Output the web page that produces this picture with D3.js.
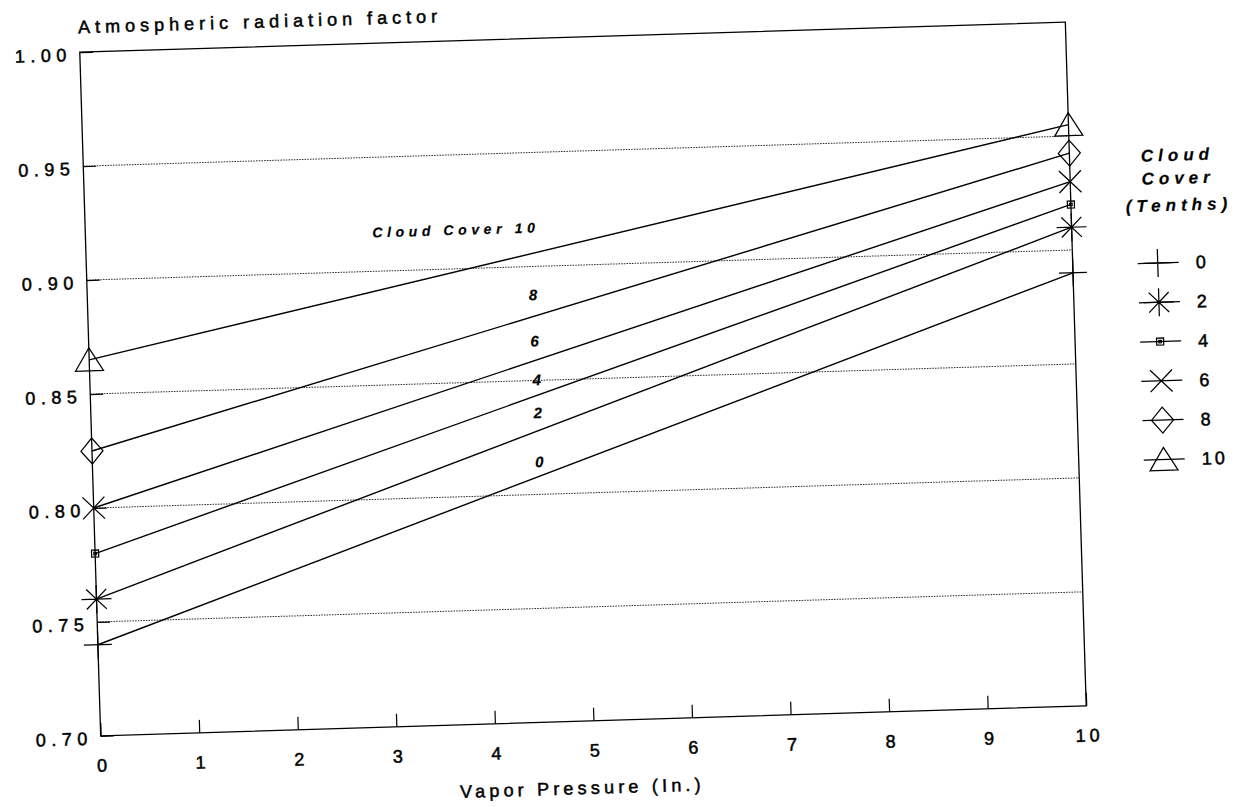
<!DOCTYPE html>
<html><head><meta charset="utf-8">
<script src="https://cdn.jsdelivr.net/npm/d3@7"></script>
<style>body{margin:0;background:#fff}svg{display:block}</style>
</head><body>
<svg id="chart" width="1235" height="807"></svg>
<script>
// ---- data ----
const vaporPressure = [0, 10];
const cloudCover = [0, 2, 4, 6, 8, 10];
const valuesAt0 = [0.74, 0.76, 0.78, 0.80, 0.825, 0.865];
const valuesAt10 = [0.89, 0.91, 0.92, 0.93, 0.9425, 0.955];
const markerTypes = ["plus", "asterisk", "square", "cross", "diamond", "triangle"];
const xTicks = [0, 1, 2, 3, 4, 5, 6, 7, 8, 9, 10];
const yTicks = [0.70, 0.75, 0.80, 0.85, 0.90, 0.95, 1.00];
const gridValues = [0.75, 0.80, 0.85, 0.90, 0.95];
const curveLabels = ["0", "2", "4", "6", "8", "Cloud Cover  10"];
const curveLabelX = [4.53, 4.53, 4.53, 4.52, 4.52, 2.91];
const curveLabelY = [0.8142, 0.8357, 0.8502, 0.8673, 0.8875, 0.917];
const yTitle = "Atmospheric radiation factor";
const xTitle = "Vapor Pressure (In.)";
const legendTitle = ["Cloud", "Cover", "(Tenths)"];

// ---- layout ----
const svg = d3.select("#chart");
const L = 90, R = 1076, T = 37, B = 721;
const FONT = "'Liberation Sans', Arial, Helvetica, sans-serif";
const x = d3.scaleLinear().domain([0, 10]).range([L, R]);
const y = d3.scaleLinear().domain([0.70, 1.00]).range([B, T]);

const root = svg.append("g").attr("transform", "rotate(-1.75, 583, 379)");

function heavy(sel, w) {
  return sel.attr("fill", "#000").attr("stroke", "#000").attr("stroke-width", w)
    .attr("paint-order", "stroke");
}

// gridlines (dotted)
root.append("g").selectAll("line").data(gridValues).join("line")
  .attr("x1", x(0)).attr("x2", x(10))
  .attr("y1", d => y(d)).attr("y2", d => y(d))
  .attr("stroke", "#333").attr("stroke-width", 1)
  .attr("stroke-dasharray", "1.6,1.1");

// axes
const xAxis = root.append("g").attr("transform", `translate(0,${B})`)
  .call(d3.axisBottom(x).tickValues(xTicks).tickSize(-13).tickPadding(23).tickFormat(d3.format("d")));
const yAxis = root.append("g").attr("transform", `translate(${L},0)`)
  .call(d3.axisLeft(y).tickValues(yTicks).tickSize(-13).tickPadding(8).tickFormat(d3.format(".2f")));
[xAxis, yAxis].forEach(a => {
  a.select(".domain").remove();
  a.selectAll(".tick line").attr("stroke", "#000").attr("stroke-width", 1.2);
  heavy(a.selectAll(".tick text"), 0.5).style("font-family", FONT)
    .style("font-size", "18px");
});
xAxis.selectAll(".tick text").style("letter-spacing", "4px").attr("dx", "2px");
yAxis.selectAll(".tick text").style("letter-spacing", "5.5px").attr("dy", "0.45em");

// frame
root.append("rect").attr("x", L).attr("y", T).attr("width", R - L).attr("height", B - T)
  .attr("fill", "none").attr("stroke", "#000").attr("stroke-width", 1.3);

// marker shapes
function markerPath(type) {
  switch (type) {
    case "plus": return "M-14,0H14M0,-14V14";
    case "asterisk": return "M-15,0H15M0,-14V14M-10,-10L10,10M-10,10L10,-10";
    case "square": return "M-3.5,-3.5H3.5V3.5H-3.5Z M-1.2,-1.2H1.2V1.2H-1.2Z";
    case "cross": return "M-11,-11L11,11M-11,11L11,-11";
    case "diamond": return "M0,-13L11,0L0,13L-11,0Z";
    case "triangle": return "M0,-12L14,11L-14,11Z";
  }
}

// series lines and markers
const series = cloudCover.map((c, i) => ({
  c, type: markerTypes[i],
  pts: vaporPressure.map((v, j) => ({ v, val: j === 0 ? valuesAt0[i] : valuesAt10[i] }))
}));
const line = d3.line().x(d => x(d.v)).y(d => y(d.val));
const sg = root.append("g").selectAll("g").data(series).join("g");
sg.append("path").attr("d", d => line(d.pts)).attr("fill", "none")
  .attr("stroke", "#000").attr("stroke-width", 1.4);
sg.each(function (s) {
  d3.select(this).selectAll("path.m").data(s.pts).join("path").attr("class", "m")
    .attr("transform", d => `translate(${x(d.v)},${y(d.val)})`)
    .attr("d", markerPath(s.type)).attr("fill", "none")
    .attr("stroke", "#000").attr("stroke-width", 1.25);
});

// curve labels
heavy(root.append("g").selectAll("text").data(curveLabels).join("text"), 0.2)
  .attr("x", (d, i) => x(curveLabelX[i])).attr("y", (d, i) => y(curveLabelY[i]))
  .attr("dy", "0.35em")
  .attr("text-anchor", (d, i) => i === 5 ? "start" : "middle")
  .style("font-family", FONT).style("font-size", (d, i) => i === 5 ? "14px" : "15px")
  .style("font-style", "italic")
  .style("font-weight", "bold").style("letter-spacing", (d, i) => i === 5 ? "4.6px" : "0px")
  .text(d => d);

// titles
heavy(root.append("text"), 0.5).attr("x", 89).attr("y", 18).text(yTitle)
  .style("font-family", FONT).style("font-size", "18px").style("letter-spacing", "5px");
heavy(root.append("text"), 0.5).attr("x", 570).attr("y", 794).attr("text-anchor", "middle").text(xTitle)
  .style("font-family", FONT).style("font-size", "18px").style("letter-spacing", "4.2px");

// legend
const lg = root.append("g");
heavy(lg.selectAll("text.t").data(legendTitle).join("text").attr("class", "t"), 0.2)
  .attr("x", 1184).attr("y", (d, i) => [179, 202, 229][i]).attr("text-anchor", "middle")
  .style("font-family", FONT).style("font-size", "17px").style("font-style", "italic")
  .style("font-weight", "bold").style("letter-spacing", "5px").text(d => d);
const rows = lg.selectAll("g.row").data(series).join("g").attr("class", "row")
  .attr("transform", (d, i) => `translate(1161,${280.6 + i * 39.3})`);
rows.append("line").attr("x1", -20).attr("x2", 21).attr("stroke", "#000").attr("stroke-width", 1.25);
rows.append("path").attr("d", d => markerPath(d.type)).attr("fill", "none")
  .attr("stroke", "#000").attr("stroke-width", 1.25);
heavy(rows.append("text"), 0.5).attr("x", 38).attr("dy", "0.36em").text(d => d.c)
  .style("font-family", FONT).style("font-size", "18px").style("letter-spacing", "3px");
</script>
</body></html>
